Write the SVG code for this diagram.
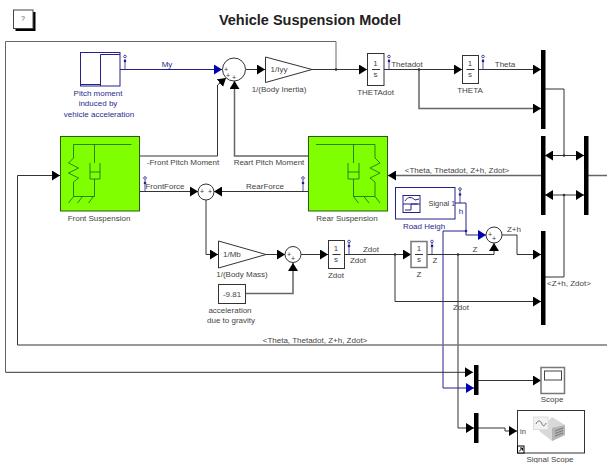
<svg xmlns="http://www.w3.org/2000/svg" width="607" height="463" viewBox="0 0 607 463">
<style>
text{font-family:"Liberation Sans",Arial,sans-serif;font-size:8px;fill:#444;text-anchor:middle}
.b{fill:#2a2a8c}
.w{fill:none;stroke:#333;stroke-width:1}
.g{fill:none;stroke:#777;stroke-width:1.500}
.k{fill:none;stroke:#666;stroke-width:1.500}
.u{fill:none;stroke:#22228a;stroke-width:1}
.bl{fill:#fff;stroke:#333;stroke-width:1}
.gb{fill:#fff;stroke:#777;stroke-width:1.500}
.bb{fill:#fff;stroke:#22228a;stroke-width:1}
.bar{fill:#000}
.sp{fill:#80ff00;stroke:#2a5a10;stroke-width:1}
.ic{fill:none;stroke:#14641c;stroke-width:.8}
.p{fill:#333;font-size:7px}
.tp{fill:none;stroke:#22228a;stroke-width:.8}
.dot{fill:#22228a}
</style>
<defs>
<marker id="a" markerUnits="userSpaceOnUse" markerWidth="9" markerHeight="10" refX="8" refY="5" orient="auto"><path d="M0 0L8 5L0 10z" fill="#000"/></marker>
<marker id="ab" markerUnits="userSpaceOnUse" markerWidth="9" markerHeight="10" refX="8" refY="5" orient="auto"><path d="M0 0L8 5L0 10z" fill="#0000b0"/></marker>
</defs>
<rect width="607" height="463" fill="#fff"/>
<text x="310" y="25" style="font-size:14.500px;font-weight:bold;fill:#222">Vehicle Suspension Model</text>
<g id="help"><rect x="15.500" y="12" width="20" height="19" fill="#000"/><rect x="13.500" y="10" width="19.500" height="18.500" fill="#fff" stroke="#444"/><text x="23" y="21" style="font-size:7px;fill:#555">?</text></g>

<g id="connectors">
<path class="k" d="M336 69.500V41.500H5.500V372.300" style="stroke-width:1"/>
<path class="w" d="M5.500 372.300H473" marker-end="url(#a)"/>
<path class="u" d="M120 69.500H222" marker-end="url(#ab)"/>
<path class="w" d="M246 69.500H265" marker-end="url(#a)"/>
<path class="w" d="M312 69.500H367" marker-end="url(#a)"/>
<path class="w" d="M384 69.500H462" marker-end="url(#a)"/>
<path class="w" d="M478 69.500H541" marker-end="url(#a)"/>
<path class="k" d="M419 69.500V108.500H541" marker-end="url(#a)"/>
<path class="w" d="M139.500 156H217.500V85L226 78" marker-end="url(#a)"/>
<path class="k" d="M308 156H234.500V81" marker-end="url(#a)"/>
<path class="w" d="M139.500 191.500H198" marker-end="url(#a)"/>
<path class="w" d="M308 191.500H214" marker-end="url(#a)"/>
<path class="w" d="M206 200V254.500H218" marker-end="url(#a)"/>
<path class="w" d="M266 254.500H285" marker-end="url(#a)"/>
<path class="k" d="M245.500 293.500H293V263" marker-end="url(#a)"/>
<path class="w" d="M301 254.500H328" marker-end="url(#a)"/>
<path class="w" d="M344 254.500H411" marker-end="url(#a)"/>
<path class="w" d="M395 254.500V301.500H541" marker-end="url(#a)"/>
<path class="w" d="M427 254.500H494V243" marker-end="url(#a)"/>
<path class="w" d="M458 254.500V428H474" marker-end="url(#a)"/>
<path class="u" d="M455 203H466V235H486" marker-end="url(#ab)"/>
<path class="u" d="M466 231H443V388H474" marker-end="url(#ab)"/>
<path class="w" d="M502 235H517V254.500H541" marker-end="url(#a)"/>
<path class="w" d="M545 89H564V155.500"/>
<path class="w" d="M545 277H564V195"/>
<path class="w" d="M564 155.500H545" marker-end="url(#a)"/>
<path class="w" d="M564 155.500H584" marker-end="url(#a)"/>
<path class="w" d="M564 195H545" marker-end="url(#a)"/>
<path class="w" d="M564 195H584" marker-end="url(#a)"/>
<path class="k" d="M541 175.500H388" marker-end="url(#a)"/>
<path class="k" d="M607 175.500H588"/>
<path class="g" d="M607 345H17.500"/>
<path class="w" d="M17.500 345V175.500H60" marker-end="url(#a)"/>
<path class="w" d="M478 380.500H541" marker-end="url(#a)"/>
<path class="w" d="M478 428H505V431H517" marker-end="url(#a)"/>
<g fill="#333"><circle cx="336" cy="69.500" r="1.300"/><circle cx="419" cy="69.500" r="1.300"/><circle cx="564" cy="155.500" r="1.300"/><circle cx="564" cy="195" r="1.300"/><circle cx="395" cy="254.500" r="1.300"/><circle cx="458" cy="254.500" r="1.300"/><circle cx="466" cy="231" r="1.300" fill="#22228a"/></g>
<g id="probes">
<path class="tp" d="M125 59V69.500"/><circle class="tp" cx="125" cy="56.500" r="1.300"/><circle class="dot" cx="125" cy="61" r="1.300"/>
<path class="tp" d="M389 59V69.500"/><circle class="tp" cx="389" cy="56.500" r="1.300"/><circle class="dot" cx="389" cy="61" r="1.300"/>
<path class="tp" d="M483 59V69.500"/><circle class="tp" cx="483" cy="56.500" r="1.300"/><circle class="dot" cx="483" cy="61" r="1.300"/>
<path class="tp" d="M145 180V191.500"/><circle class="tp" cx="145" cy="178" r="1.300"/><circle class="dot" cx="145" cy="183" r="1.300"/>
<path class="tp" d="M303 180V191.500"/><circle class="tp" cx="303" cy="178" r="1.300"/><circle class="dot" cx="303" cy="183" r="1.300"/>
<path class="tp" d="M460 190V203"/><circle class="tp" cx="460" cy="189" r="1.300"/><circle class="dot" cx="460" cy="194.500" r="1.300"/>
<path class="tp" d="M349 243V254.500"/><circle class="tp" cx="349" cy="241.500" r="1.300"/><circle class="dot" cx="349" cy="246" r="1.300"/>
<path class="tp" d="M432 243V254.500"/><circle class="tp" cx="432" cy="241.500" r="1.300"/><circle class="dot" cx="432" cy="246" r="1.300"/>
</g>
<text x="167" y="67" class="b">My</text>
<text x="183" y="164.500">-Front Pitch Moment</text>
<text x="269" y="164.500">Reart Pitch Moment</text>
<text x="165" y="189">FrontForce</text>
<text x="265" y="189">RearForce</text>
<text x="407" y="67">Thetadot</text>
<text x="505" y="67">Theta</text>
<text x="457" y="173">&lt;Theta, Thetadot, Z+h, Zdot&gt;</text>
<text x="461" y="214" class="b">h</text>
<text x="514" y="232">Z+h</text>
<text x="371" y="252">Zdot</text>
<text x="358" y="263">Zdot</text>
<text x="435" y="263">Z</text>
<text x="475" y="252">Z</text>
<text x="461" y="310">Zdot</text>
<text x="569" y="286">&lt;Z+h, Zdot&gt;</text>
<text x="315" y="342.500">&lt;Theta, Thetadot, Z+h, Zdot&gt;</text>
</g>

<g id="pitch-moment"><rect class="bb" x="80.500" y="52.500" width="39.500" height="33.500"/><path class="u" d="M100.500 86V54.500H120M80.500 84.500H100.500"/><text class="b" x="98" y="96">Pitch moment</text><text class="b" x="98" y="106">induced by</text><text class="b" x="99" y="116.500">vehicle acceleration</text></g>
<g id="sum1"><circle class="bl" cx="234" cy="69.500" r="11.500"/><text class="p" x="226" y="72">+</text><text class="p" x="228" y="78">+</text><text class="p" x="234" y="80">+</text></g>
<g id="gain-iyy"><path class="bl" d="M265.500 57L312 69.500L265.500 82.500z"/><text x="279" y="72">1/Iyy</text><text x="279" y="92">1/(Body Inertia)</text></g>
<g id="thetadot-int"><rect class="bl" x="367.500" y="53.500" width="16.500" height="32"/><path class="w" d="M372 69.500H380"/><text x="375.500" y="66">1</text><text x="375.500" y="77">s</text><text x="375.500" y="95">THETAdot</text></g>
<g id="theta-int"><rect class="bl" x="462.500" y="55.500" width="16" height="28"/><path class="w" d="M466.500 69.500H474.500"/><text x="470" y="66">1</text><text x="470" y="77">s</text><text x="470" y="93">THETA</text></g>
<g id="mux1"><rect class="bar" x="541" y="50" width="4.500" height="79"/></g>
<g id="demux1"><rect class="bar" x="541" y="136" width="4.500" height="79"/></g>
<g id="mux-right"><rect class="bar" x="584" y="136" width="4.500" height="79"/></g>
<g id="mux3"><rect class="bar" x="541" y="231" width="4.500" height="94"/></g>
<g id="front-suspension"><rect class="sp" x="60.500" y="136.500" width="79" height="74.500"/>
<path class="ic" d="M73.500 144.500H131.500M94.500 144.500V163M94.500 179V196.500M73.500 144.500V158L68.500 163L78.500 168L68.500 173L78.500 178L73.500 182V196.500H94.500M90 163V179H100V163M90 172H100M73.500 196.500L68.500 203M82.500 196.500L77.500 203M93.500 196.500L88.500 203"/><text x="99" y="220.500">Front Suspension</text></g>
<g id="rear-suspension"><rect class="sp" x="308.500" y="136.500" width="79" height="74.500"/>
<path class="ic" d="M316 144.500H375M353.500 144.500V163M353.500 179V196.500M375 144.500V158L380 163L370 168L380 173L370 178L375 182V196.500H353.500M348 163V179H359V163M348 172H359M353.500 196.500L358.500 203M364 196.500L369 203M375 196.500L380 203"/><text x="347" y="220.500">Rear Suspension</text></g>
<g id="sum2"><circle class="bl" cx="206" cy="192" r="8"/><text class="p" x="202" y="194">+</text><text class="p" x="210" y="194">+</text></g>
<g id="gain-mb"><path class="bl" d="M218.500 241L266 254.500L218.500 268z"/><text x="223" y="257" style="text-anchor:start">1/Mb</text><text x="242" y="277">1/(Body Mass)</text></g>
<g id="sum3"><circle class="bl" cx="293" cy="254.500" r="8"/><text class="p" x="289" y="257">+</text><text class="p" x="293" y="261">+</text></g>
<g id="gravity"><rect class="bl" x="218.500" y="284.500" width="27" height="19"/><text x="232" y="296.500">-9.81</text><text x="230" y="313">acceleration</text><text x="231" y="323">due to gravity</text></g>
<g id="zdot-int"><rect class="bl" x="328.500" y="240.500" width="16" height="28"/><path class="w" d="M332.500 254.500H340.500"/><text x="336" y="251">1</text><text x="336" y="262">s</text><text x="336" y="278">Zdot</text></g>
<g id="z-int"><rect class="gb" x="411" y="241.500" width="16" height="26"/><path class="w" d="M415 254.500H423"/><text x="419" y="251">1</text><text x="419" y="262">s</text><text x="419" y="277">Z</text></g>
<g id="road-height"><rect class="bb" x="395.500" y="187.500" width="59.500" height="31.500"/><rect class="u" x="403" y="195.500" width="17" height="17"/><path class="u" d="M403 204H420M405 201C408 196 412 197 415 200L419 199M405 210H411V204H418"/><text x="442" y="206" style="font-size:7.500px">Signal 1</text><text class="b" x="424" y="228.500">Road Heigh</text></g>
<g id="sum4"><circle class="bl" cx="494" cy="235" r="8"/><text class="p" x="490" y="237">+</text><text class="p" x="494" y="241">+</text></g>
<g id="mux-scope"><rect class="bar" x="474" y="365" width="4.500" height="30"/></g>
<g id="mux-signal"><rect class="bar" x="474" y="413" width="4.500" height="30"/></g>
<g id="scope"><rect class="gb" x="541" y="367.500" width="23.500" height="26"/><rect x="544.500" y="371" width="17" height="9" fill="#fff" stroke="#444"/><text x="552" y="402">Scope</text></g>
<g id="signal-scope"><rect class="bl" x="517.500" y="410.500" width="67" height="42.500"/><path d="M539 431L552 417L565 425V435L552 441z" fill="#d8d8d8"/><path d="M552 428L565 425V435L552 441z" fill="#b4b4b4"/><path d="M555 431L563 428M555 433.500L563 430.500M555 436L563 433" stroke="#666" stroke-width=".8" fill="none"/><rect x="533.500" y="417" width="14.500" height="12.500" fill="#f2f2f2" stroke="#ddd"/><path d="M536 424C538 419 541 421 542 424S545 426 546 423" fill="none" stroke="#555" stroke-width=".8"/><text x="520" y="434" style="text-anchor:start;font-size:7.500px">in</text><rect x="517.500" y="446" width="6.500" height="7" fill="#fff" stroke="#000"/><path d="M519 451.500L522.500 448M520 448H522.500V450.500" fill="none" stroke="#000"/><text x="550" y="462">Signal Scope</text></g>
</svg>
